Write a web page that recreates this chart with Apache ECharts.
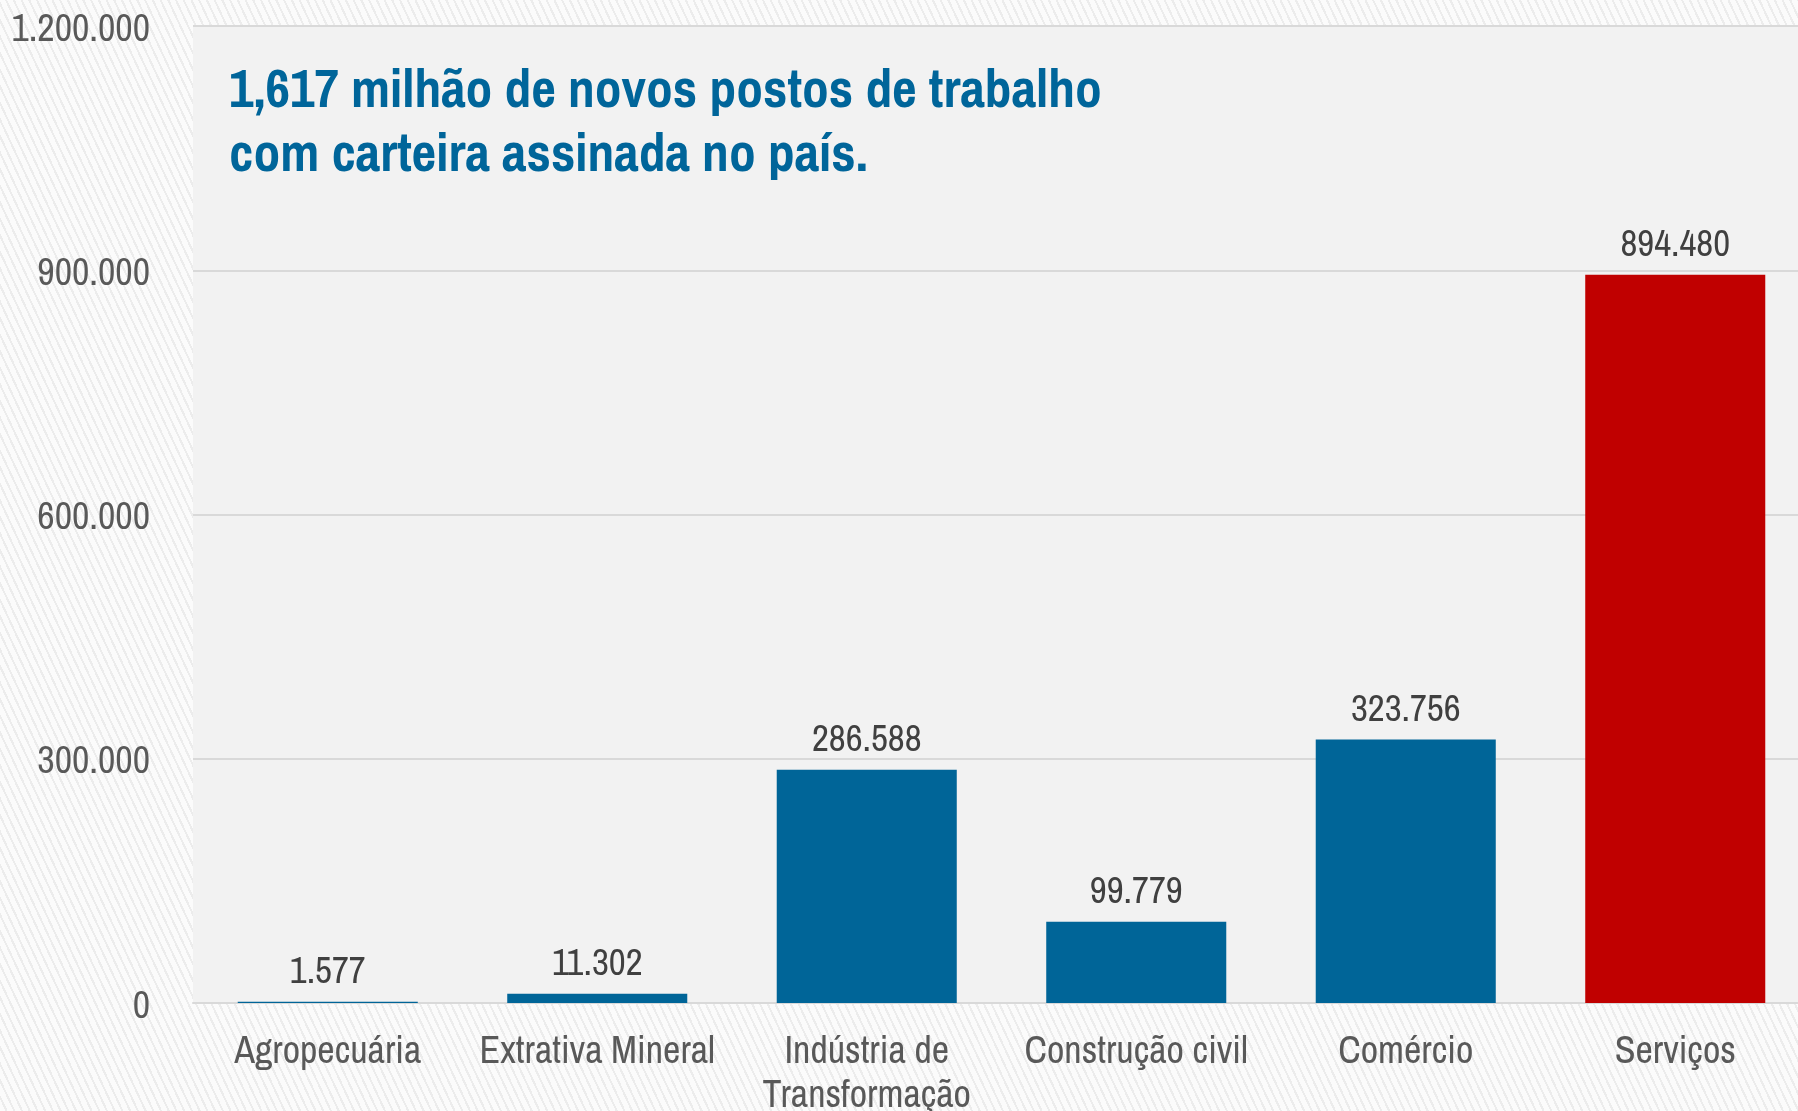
<!DOCTYPE html>
<html>
<head>
<meta charset="utf-8">
<script src="https://cdn.jsdelivr.net/npm/echarts@6/dist/echarts.min.js"></script>
<style>
  html, body { margin: 0; padding: 0; }
  body {
    width: 1798px; height: 1111px; overflow: hidden;
    background-color: #fbfbfb;
    background-image: repeating-linear-gradient(65deg, #fbfbfb 0px, #fbfbfb 5px, #ececec 5px, #ececec 7px);
  }
  #chart { width: 1798px; height: 1111px; }
</style>
</head>
<body>
<div id="chart"></div>
<script>
const categories = ['Agropecuária', 'Extrativa Mineral', 'Indústria de\nTransformação', 'Construção civil', 'Comércio', 'Serviços'];
const values = [1577, 11302, 286588, 99779, 323756, 894480];
const yTicks = { min: 0, max: 1200000, interval: 300000 };
const titleText = '1,617 milhão de novos postos de trabalho\ncom carteira assinada no país.';
const highlightCategory = 'Serviços';

const FONT = "'Archivo Narrow', 'Roboto Condensed', 'Liberation Sans', Arial, sans-serif";
function fmt(v) {
  return String(Math.round(v)).replace(/\B(?=(\d{3})+(?!\d))/g, '.');
}

const chart = echarts.init(document.getElementById('chart'), null, { renderer: 'canvas' });
chart.setOption({
  backgroundColor: 'transparent',
  animation: false,
  title: {
    text: titleText,
    left: 229,
    top: 61,
    padding: 0,
    textStyle: {
      fontFamily: FONT,
      fontWeight: 'bold',
      fontSize: 53.5,
      lineHeight: 64,
      color: '#00659a'
    }
  },
  grid: {
    left: 193, right: -12, top: 26, bottom: 108,
    show: true, backgroundColor: '#f2f2f2', borderWidth: 0,
    containLabel: false,
    outerBoundsMode: 'none'
  },
  xAxis: {
    type: 'category',
    data: categories,
    axisLine: { show: true, lineStyle: { color: '#d9d9d9', width: 2 } },
    axisTick: { show: false },
    axisLabel: {
      interval: 0,
      margin: 28,
      fontFamily: FONT,
      fontSize: 38,
      lineHeight: 44,
      color: '#595959'
    }
  },
  yAxis: {
    type: 'value',
    min: yTicks.min, max: yTicks.max, interval: yTicks.interval,
    axisLine: { show: false },
    axisTick: { show: false },
    splitLine: { show: true, lineStyle: { color: '#d9d9d9', width: 2 } },
    axisLabel: {
      margin: 43,
      fontFamily: FONT,
      fontSize: 38,
      color: '#595959',
      formatter: function (v) { return '{t|' + fmt(v) + '}'; },
      rich: {
        t: {
          fontFamily: FONT,
          fontSize: 38,
          color: '#595959',
          padding: [9, 0, 0, 0]
        }
      }
    }
  },
  series: [{
    type: 'bar',
    data: values,
    barCategoryGap: '33.2%',
    itemStyle: {
      color: function (p) { return categories[p.dataIndex] === highlightCategory ? '#c00000' : '#006598'; }
    },
    label: {
      show: true,
      position: 'top',
      distance: 10,
      fontFamily: FONT,
      fontSize: 37,
      color: '#404040',
      formatter: function (p) { return fmt(p.value); }
    }
  }]
});
</script>
</body>
</html>
